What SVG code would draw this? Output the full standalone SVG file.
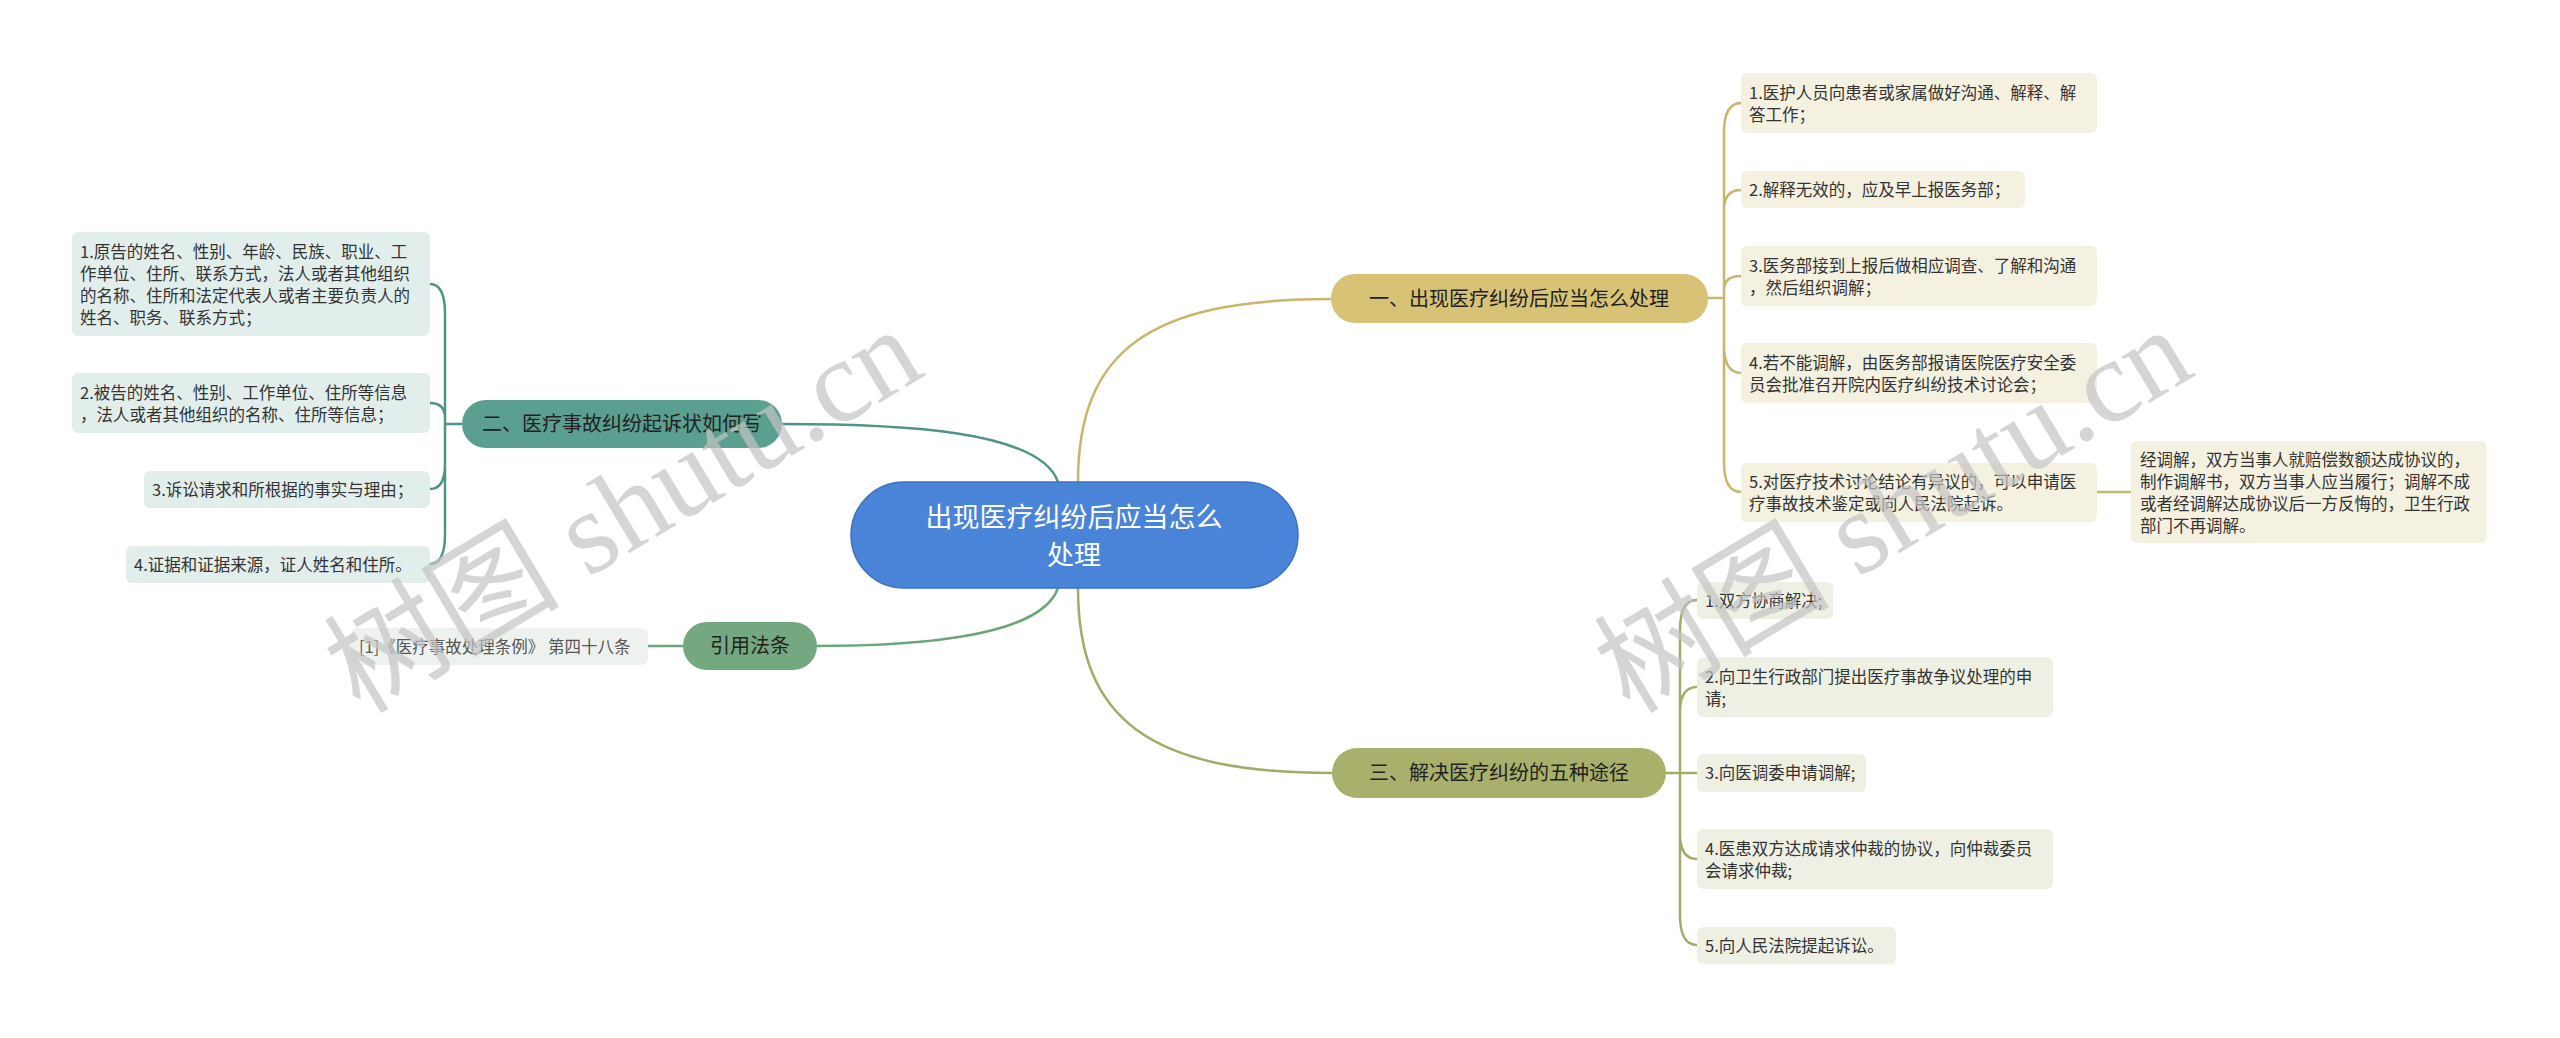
<svg xmlns="http://www.w3.org/2000/svg" width="2560" height="1038" viewBox="0 0 2560 1038">
<style>
text{font-family:"Noto Sans CJK SC","Liberation Sans",sans-serif;}
.leaf{font-size:16.5px;fill:#333;}
.l1{fill:#f4f1e1;}
.l3{fill:#eff0e4;}
.l2{fill:#e2eeeb;}
.c1{fill:none;stroke:#c9b56b;stroke-width:2.5;}
.c3{fill:none;stroke:#a4ab66;stroke-width:2.5;}
.c2{fill:none;stroke:#4f9485;stroke-width:2.5;}
.c4{fill:none;stroke:#6aa57b;stroke-width:2.5;}
.br{font-size:20px;fill:#222;}
.wm{font-size:118px;fill:#c4c4c4;opacity:0.7;font-family:"Liberation Serif","Noto Sans CJK SC",serif;}
</style>
<rect width="2560" height="1038" fill="#fff"/>
<g id="connectors">
<path class="c1" d="M1078,482 C1078,350 1150,299 1331,299"/>
<path class="c3" d="M1078,588 C1078,720 1150,773 1332,773"/>
<path class="c2" d="M1058,482 C1040,430 900,424 782,424"/>
<path class="c4" d="M1058,588 C1040,640 900,646 817,646"/>
<path class="c1" d="M1708,298 H1724 M1724,298 V133 Q1724,103 1741,103 M1724,298 V210 Q1724,190 1741,190 M1724,298 V290 Q1724,276 1741,276 M1724,298 V345 Q1724,373 1741,373 M1724,298 V462 Q1724,492 1741,492 M2097,492 H2131"/>
<path class="c3" d="M1666,773 H1680 M1680,773 V630 Q1680,600 1697,600 M1680,773 V712 Q1680,687 1697,687 M1680,773 H1697 M1680,773 V834 Q1680,859 1697,859 M1680,773 V915 Q1680,945 1697,945"/>
<path class="c2" d="M462,424 H445 M445,424 V314 Q445,284 430,284 M445,424 V418 Q445,403 430,403 M445,424 V464 Q445,489 430,489 M445,424 V534 Q445,564 430,564"/>
<path class="c4" d="M683,646 H648"/>
</g>
<g id="center">
<rect x="851" y="482" width="447" height="106" rx="53" fill="#4a84d9" stroke="#3d72c2" stroke-width="1.5"/>
<text x="1074" y="527" font-size="27" fill="#fff" text-anchor="middle">出现医疗纠纷后应当怎么</text>
<text x="1074" y="565" font-size="27" fill="#fff" text-anchor="middle">处理</text>
</g>
<g id="b1">
<rect x="1331" y="274" width="377" height="49" rx="24" fill="#d8c275"/>
<text class="br" x="1519" y="306" text-anchor="middle">一、出现医疗纠纷后应当怎么处理</text>
</g>
<g id="b1-1"><rect class="l1" x="1741" y="73" width="356" height="60" rx="6"/><text class="leaf" x="1749" y="99">1.医护人员向患者或家属做好沟通、解释、解</text><text class="leaf" x="1749" y="121">答工作；</text></g>
<g id="b1-2"><rect class="l1" x="1741" y="171" width="284" height="37" rx="6"/><text class="leaf" x="1749" y="196">2.解释无效的，应及早上报医务部；</text></g>
<g id="b1-3"><rect class="l1" x="1741" y="246" width="356" height="60" rx="6"/><text class="leaf" x="1749" y="272">3.医务部接到上报后做相应调查、了解和沟通</text><text class="leaf" x="1749" y="294">，然后组织调解；</text></g>
<g id="b1-4"><rect class="l1" x="1741" y="343" width="356" height="60" rx="6"/><text class="leaf" x="1749" y="369">4.若不能调解，由医务部报请医院医疗安全委</text><text class="leaf" x="1749" y="391">员会批准召开院内医疗纠纷技术讨论会；</text></g>
<g id="b1-5"><rect class="l1" x="1741" y="463" width="356" height="59" rx="6"/><text class="leaf" x="1749" y="488">5.对医疗技术讨论结论有异议的，可以申请医</text><text class="leaf" x="1749" y="510">疗事故技术鉴定或向人民法院起诉。</text></g>
<g id="b1-5-1"><rect class="l1" x="2131" y="441" width="356" height="102" rx="6"/><text class="leaf" x="2140" y="466">经调解，双方当事人就赔偿数额达成协议的，</text><text class="leaf" x="2140" y="488">制作调解书，双方当事人应当履行；调解不成</text><text class="leaf" x="2140" y="510">或者经调解达成协议后一方反悔的，卫生行政</text><text class="leaf" x="2140" y="532">部门不再调解。</text></g>
<g id="b3">
<rect x="1332" y="748" width="334" height="50" rx="25" fill="#a9b06c"/>
<text class="br" x="1499" y="780" text-anchor="middle">三、解决医疗纠纷的五种途径</text>
</g>
<g id="b3-1"><rect class="l3" x="1697" y="582" width="136" height="37" rx="6"/><text class="leaf" x="1705" y="607">1.双方协商解决;</text></g>
<g id="b3-2"><rect class="l3" x="1697" y="657" width="356" height="60" rx="6"/><text class="leaf" x="1705" y="683">2.向卫生行政部门提出医疗事故争议处理的申</text><text class="leaf" x="1705" y="705">请;</text></g>
<g id="b3-3"><rect class="l3" x="1697" y="754" width="169" height="38" rx="6"/><text class="leaf" x="1705" y="779">3.向医调委申请调解;</text></g>
<g id="b3-4"><rect class="l3" x="1697" y="829" width="356" height="60" rx="6"/><text class="leaf" x="1705" y="855">4.医患双方达成请求仲裁的协议，向仲裁委员</text><text class="leaf" x="1705" y="877">会请求仲裁;</text></g>
<g id="b3-5"><rect class="l3" x="1697" y="927" width="199" height="37" rx="6"/><text class="leaf" x="1705" y="952">5.向人民法院提起诉讼。</text></g>
<g id="b2">
<rect x="462" y="400" width="320" height="48" rx="24" fill="#5a9f8f"/>
<text class="br" x="622" y="431" text-anchor="middle">二、医疗事故纠纷起诉状如何写</text>
</g>
<g id="b2-1"><rect class="l2" x="72" y="232" width="358" height="104" rx="6"/><text class="leaf" x="80" y="258">1.原告的姓名、性别、年龄、民族、职业、工</text><text class="leaf" x="80" y="280">作单位、住所、联系方式，法人或者其他组织</text><text class="leaf" x="80" y="302">的名称、住所和法定代表人或者主要负责人的</text><text class="leaf" x="80" y="324">姓名、职务、联系方式；</text></g>
<g id="b2-2"><rect class="l2" x="72" y="373" width="358" height="60" rx="6"/><text class="leaf" x="80" y="399">2.被告的姓名、性别、工作单位、住所等信息</text><text class="leaf" x="80" y="421">，法人或者其他组织的名称、住所等信息；</text></g>
<g id="b2-3"><rect class="l2" x="144" y="471" width="286" height="37" rx="6"/><text class="leaf" x="152" y="496">3.诉讼请求和所根据的事实与理由；</text></g>
<g id="b2-4"><rect class="l2" x="126" y="546" width="304" height="37" rx="6"/><text class="leaf" x="134" y="571">4.证据和证据来源，证人姓名和住所。</text></g>
<g id="b4">
<rect x="683" y="622" width="134" height="48" rx="24" fill="#73a880"/>
<text class="br" x="750" y="653" text-anchor="middle">引用法条</text>
</g>
<g id="b4-1"><rect x="351" y="628" width="297" height="37" rx="6" fill="#eef2ee"/><text class="leaf" x="359" y="653" style="fill:#555">[1]《医疗事故处理条例》 第四十八条</text></g>
<g id="watermark">
<text class="wm" transform="translate(360,715) rotate(-31)">树图 shutu.cn</text>
<text class="wm" transform="translate(1630,715) rotate(-31)">树图 shutu.cn</text>
</g>
</svg>
